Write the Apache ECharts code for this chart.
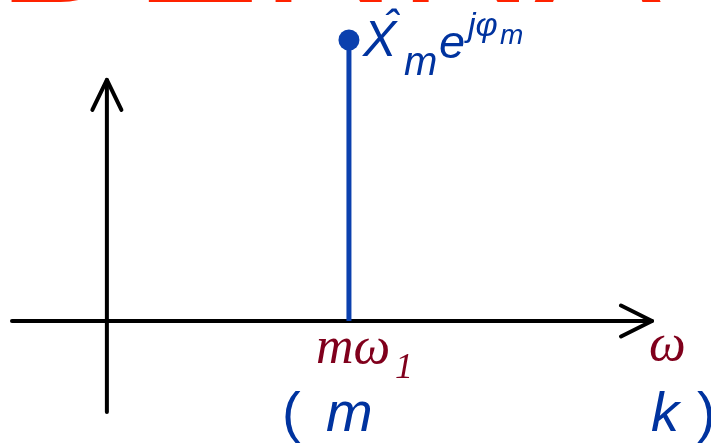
<!DOCTYPE html>
<html><head><meta charset="utf-8">
<script src="https://cdn.jsdelivr.net/npm/echarts@6/dist/echarts.min.js"></script>
<style>html,body{margin:0;padding:0;background:#fff}#c{width:711px;height:443px}</style>
</head><body><div id="c"></div>
<script>
// ---- data ----
const harmonicIndex = [5];        // position of the m-th harmonic on the ω axis
const harmonicAmp = [1];          // amplitude of the spectral line
const xRange = [-1.96, 11.26];    // ω axis extent (tip of arrow at max)
const yRange = [-0.324, 1];
const vAxisSpan = [-0.324, 0.858];
const hArrowWing = [10.62, 0.055];
const vArrowWing = [0.3, 0.751];
const titleText = 'DENNA';

const BLUE_TXT = '#00339f';
const BLUE_STEM = '#0b40ae';
const DARKRED = '#80001c';
const RED = '#ff2200';

const chart = echarts.init(document.getElementById('c'), null, {renderer: 'canvas'});

const axisLine = (data) => ({
  type: 'line', data, showSymbol: false, silent: true, animation: false,
  lineStyle: {color: '#000', width: 4, cap: 'round', join: 'round'}, z: 2
});

chart.setOption({
  animation: false,
  grid: {left: 12, right: 59, top: 40, bottom: 31},
  xAxis: {type: 'value', min: xRange[0], max: xRange[1], show: false},
  yAxis: {type: 'value', min: yRange[0], max: yRange[1], show: false},
  series: [
    axisLine([[xRange[0], 0], [xRange[1], 0]]),
    axisLine([[hArrowWing[0], hArrowWing[1]], [xRange[1], 0], [hArrowWing[0], -hArrowWing[1]]]),
    axisLine([[0, vAxisSpan[0]], [0, vAxisSpan[1]]]),
    axisLine([[-vArrowWing[0], vArrowWing[1]], [0, vAxisSpan[1]], [vArrowWing[0], vArrowWing[1]]]),
    {
      type: 'line', showSymbol: false, silent: true, z: 3,
      data: [[harmonicIndex[0], 0], [harmonicIndex[0], harmonicAmp[0]]],
      lineStyle: {color: BLUE_STEM, width: 5}
    },
    {
      type: 'scatter', silent: true, z: 4, symbol: 'circle', symbolSize: 21,
      data: harmonicIndex.map((m, i) => [m, harmonicAmp[i]]),
      itemStyle: {color: BLUE_STEM, opacity: 1}
    }
  ]
});

const pTop = chart.convertToPixel({xAxisIndex: 0, yAxisIndex: 0}, [harmonicIndex[0], harmonicAmp[0]]);
const pFoot = chart.convertToPixel({xAxisIndex: 0, yAxisIndex: 0}, [harmonicIndex[0], 0]);
const pTip = chart.convertToPixel({xAxisIndex: 0, yAxisIndex: 0}, [xRange[1], 0]);

function T(x, baseline, text, fs, family, fstyle, color) {
  const k = family.indexOf('Serif') >= 0 ? 0.2875 : 0.294;
  return {
    type: 'text', silent: true, z: 10,
    x: x, y: baseline - k * fs,
    style: {
      text: text, font: fstyle + ' ' + fs + 'px "' + family + '"', fill: color,
      align: 'left', verticalAlign: 'middle', textAlign: 'left', textVerticalAlign: 'middle'
    }
  };
}
const SANS = 'Liberation Sans', SERIF = 'Liberation Serif';

chart.setOption({
  graphic: [
    T(-4, 5, titleText, 190, SANS, 'normal', RED),
    // X̂_m e^{jφ_m}
    T(pTop[0] + 14, pTop[1] + 17, 'X', 50, SANS, 'italic', BLUE_TXT),
    T(pTop[0] + 35, pTop[1] + 2, 'ˆ', 44, SANS, 'italic', BLUE_TXT),
    T(pTop[0] + 55, pTop[1] + 36, 'm', 40, SANS, 'italic', BLUE_TXT),
    T(pTop[0] + 90, pTop[1] + 19, 'e', 47, SANS, 'italic', BLUE_TXT),
    T(pTop[0] + 119, pTop[1] - 3, 'jφ', 34, SANS, 'italic', BLUE_TXT),
    T(pTop[0] + 151, pTop[1] + 4, 'm', 28, SANS, 'italic', BLUE_TXT),
    // m ω_1
    T(pFoot[0] - 33, pFoot[1] + 43, 'mω', 52, SERIF, 'italic', DARKRED),
    T(pFoot[0] + 46, pFoot[1] + 58, '1', 36, SERIF, 'italic', DARKRED),
    // ω at axis end
    T(pTip[0] - 3, pTip[1] + 40, 'ω', 52, SERIF, 'italic', DARKRED),
    // ( m        k )
    T(pFoot[0] - 67, pFoot[1] + 111, '(', 56, SANS, 'normal', BLUE_TXT),
    T(pFoot[0] - 23, pFoot[1] + 111, 'm', 56, SANS, 'italic', BLUE_TXT),
    T(pTip[0] - 1, pTip[1] + 111, 'k', 56, SANS, 'italic', BLUE_TXT),
    T(pTip[0] + 45, pTip[1] + 111, ')', 56, SANS, 'normal', BLUE_TXT)
  ]
});
</script>
</body></html>
